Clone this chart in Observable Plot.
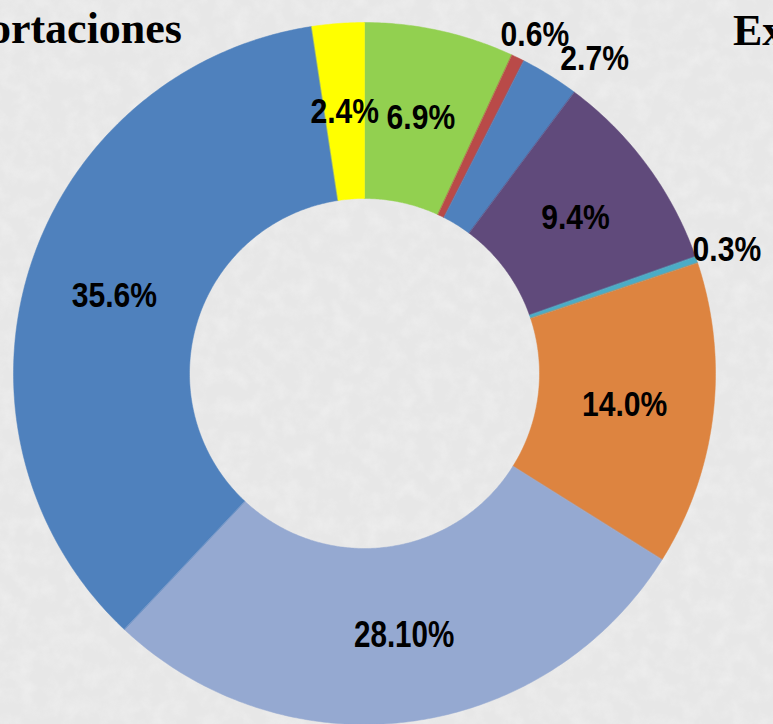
<!DOCTYPE html>
<html>
<head>
<meta charset="utf-8">
<script src="https://cdn.jsdelivr.net/npm/d3@7"></script>
<script src="https://cdn.jsdelivr.net/npm/@observablehq/plot@0.6"></script>
<style>
  html, body { margin: 0; padding: 0; background: #e9e9e9; overflow: hidden; }
  #wrap { position: relative; width: 773px; height: 724px; }
  #wrap > svg, #wrap > div { position: absolute; left: 0; top: 0; }
  #chart svg { overflow: visible; }
</style>
</head>
<body>
<div id="wrap">
  <svg id="bg" width="773" height="724">
    <filter id="noise" x="0" y="0" width="100%" height="100%">
      <feTurbulence type="fractalNoise" baseFrequency="0.06" numOctaves="4" seed="3" result="t"/>
      <feColorMatrix type="matrix" values="0 0 0 0 1  0 0 0 0 1  0 0 0 0 1  0 0 0 0.9 -0.35"/>
    </filter>
    <rect width="773" height="724" fill="#e7e7e7"/>
    <rect width="773" height="724" filter="url(#noise)" opacity="0.55"/>
  </svg>
  <div id="chart"></div>
  <svg id="titles" width="773" height="724" style="pointer-events:none">
    <text id="tImp" text-anchor="end" font-family="'Liberation Serif','Times New Roman',serif" font-weight="bold" font-size="44"></text>
    <text id="tExp" text-anchor="start" font-family="'Liberation Serif','Times New Roman',serif" font-weight="bold" font-size="44"></text>
  </svg>
</div>
<script>
// ---- data (clockwise from 12 o'clock) ----
const categories = ["Seg. 1", "Seg. 2", "Seg. 3", "Seg. 4", "Seg. 5", "Seg. 6", "Seg. 7", "Seg. 8", "Seg. 9"];
const values     = [6.9, 0.6, 2.7, 9.4, 0.3, 14.0, 28.1, 35.6, 2.4];
const labels     = ["6.9%", "0.6%", "2.7%", "9.4%", "0.3%", "14.0%", "28.10%", "35.6%", "2.4%"];
const colors     = ["#92d050", "#b94a48", "#4f81bd", "#604a7b", "#4bacc6", "#dd8440", "#95a9d1", "#4f81bd", "#ffff00"];
const labelPlacement = ["in", "out", "out", "in", "out", "in", "in", "in", "in"];
const titles = ["Importaciones", "Exportaciones"];

// ---- geometry (layout) ----
const W = 773, H = 724;
const cx = 364, cy = 373;          // pixel centre of the ring
const R = 351, r0 = 175;            // outer / inner radius (data units = px)
const rIn = 262, rOut = 383;

const total = d3.sum(values);
let cum = 0;
const slices = values.map((v, i) => {
  const a0 = cum / total * 2 * Math.PI;
  cum += v;
  const a1 = cum / total * 2 * Math.PI;
  return { i, name: categories[i], value: v, label: labels[i], color: colors[i], a0, a1, place: labelPlacement[i] };
});

// polygon vertices for every slice
const pts = [];
for (const s of slices) {
  const n = Math.max(4, Math.ceil((s.a1 - s.a0) / 0.01));
  for (let k = 0; k <= n; k++) {
    const a = s.a0 + (s.a1 - s.a0) * k / n;
    pts.push({ k: s.name, color: s.color, x: R * Math.sin(a), y: -R * Math.cos(a) });
  }
  for (let k = n; k >= 0; k--) {
    const a = s.a0 + (s.a1 - s.a0) * k / n;
    pts.push({ k: s.name, color: s.color, x: r0 * Math.sin(a), y: -r0 * Math.cos(a) });
  }
}

const lbl = slices.map(s => {
  const a = (s.a0 + s.a1) / 2;
  const r = s.place === "in" ? rIn : rOut;
  return { ...s, lx: r * Math.sin(a), ly: -r * Math.cos(a) };
});

const font = "'Liberation Sans',Arial,sans-serif";
const common = { x: "lx", y: "ly", text: "label", fill: "#000", fontWeight: "bold", fontFamily: font, textAnchor: "middle", lineAnchor: "middle", className: "lbl" };
const special = ["2.7%", "0.6%", "28.10%"];

const chart = Plot.plot({
  width: W, height: H,
  margin: 0,
  x: { domain: [-cx, W - cx], range: [0, W], axis: null },
  y: { domain: [-cy, H - cy], range: [0, H], axis: null },
  color: { type: "identity" },
  style: { background: "transparent", overflow: "visible" },
  marks: [
    Plot.line(pts, { x: "x", y: "y", z: "k", fill: "color", stroke: "color", strokeWidth: 0.5, curve: "linear-closed" }),
    Plot.text(lbl.filter(d => !special.includes(d.label)), { ...common, fontSize: 35 }),
    Plot.text(lbl.filter(d => d.label === "28.10%"), { ...common, fontSize: 37, dx: 6, dy: 2 }),
    Plot.text(lbl.filter(d => d.label === "0.6%"), { ...common, fontSize: 35, dx: 3, dy: 6 }),
    Plot.text(lbl.filter(d => d.label === "2.7%"), { ...common, fontSize: 35, dx: 28, dy: 11 })
  ]
});
document.getElementById("chart").appendChild(chart);

// condense the label glyphs horizontally (narrow bold face of the original)
d3.select(chart).selectAll("g.lbl text").each(function() {
  const t = this.getAttribute("transform") || "";
  const isWide = this.textContent === "28.10%";
  this.setAttribute("transform", t + (isWide ? " scale(0.8,1)" : " scale(0.86,1)"));
});

const tImp = document.getElementById("tImp");
tImp.setAttribute("x", 182); tImp.setAttribute("y", 43); tImp.textContent = titles[0];
const tExp = document.getElementById("tExp");
tExp.setAttribute("x", 733); tExp.setAttribute("y", 45); tExp.textContent = titles[1];
</script>
</body>
</html>
